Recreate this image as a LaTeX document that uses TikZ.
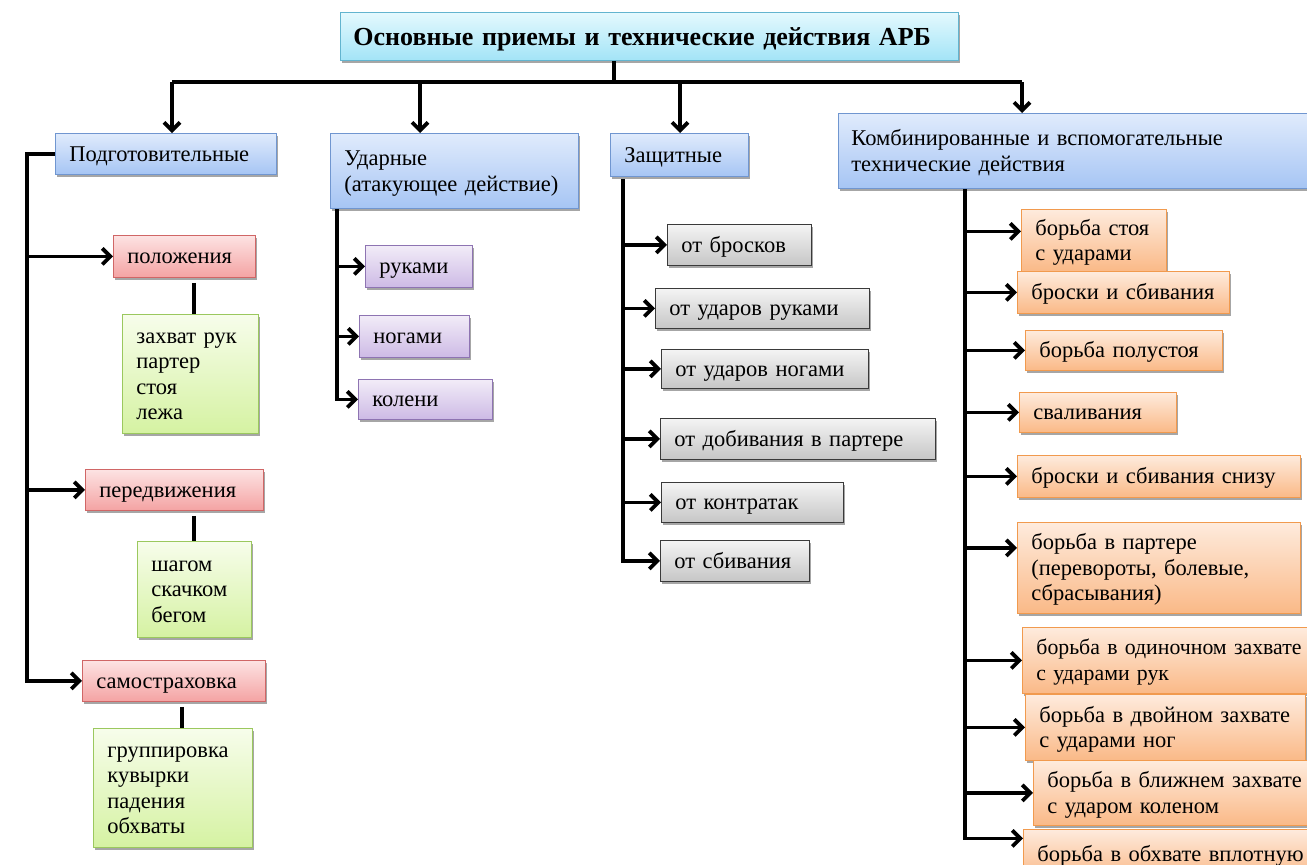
\documentclass[tikz,border=0pt]{standalone}
\usepackage{fontspec}
\setmainfont{Liberation Serif}
\usetikzlibrary{arrows.meta,shadows}
\definecolor{blueB}{HTML}{7096D0}
\definecolor{blueT}{HTML}{E0EBFC}
\definecolor{blueD}{HTML}{A6C5F4}
\definecolor{cyanB}{HTML}{62B4CF}
\definecolor{cyanT}{HTML}{E4F9FE}
\definecolor{cyanD}{HTML}{A3E4F7}
\definecolor{redB}{HTML}{D06666}
\definecolor{redT}{HTML}{FDE3E3}
\definecolor{redD}{HTML}{F4A3A3}
\definecolor{grnB}{HTML}{9BC85E}
\definecolor{grnT}{HTML}{F7FDEB}
\definecolor{grnD}{HTML}{D5F2A2}
\definecolor{purB}{HTML}{8E74B2}
\definecolor{purT}{HTML}{F2ECF8}
\definecolor{purD}{HTML}{CDBAE5}
\definecolor{gryB}{HTML}{3A3A3A}
\definecolor{gryT}{HTML}{F4F4F4}
\definecolor{gryD}{HTML}{C6C6C6}
\definecolor{orgB}{HTML}{F19A4E}
\definecolor{orgT}{HTML}{FEEBDD}
\definecolor{orgD}{HTML}{FAB987}
\newcommand\fs{\fontsize{22.5}{25.5}\selectfont}
\tikzset{
  bx/.style={rectangle, line width=0.8pt, anchor=north west, inner xsep=14pt, inner ysep=0pt,
    align=left, font=\fs,
    execute at begin node={\noindent\rule{0pt}{0.89em}},
    execute at end node={\rule[-0.22em]{0pt}{0pt}},
    drop shadow={shadow xshift=2pt, shadow yshift=-2.5pt, fill=black, opacity=0.35}},
  blu/.style={bx, draw=blueB, top color=blueT, bottom color=blueD},
  cyn/.style={bx, draw=cyanB, top color=cyanT, bottom color=cyanD},
  red/.style={bx, draw=redB, top color=redT, bottom color=redD},
  grn/.style={bx, draw=grnB, top color=grnT, bottom color=grnD},
  pur/.style={bx, draw=purB, top color=purT, bottom color=purD},
  gry/.style={bx, draw=gryB, top color=gryT, bottom color=gryD},
  org/.style={bx, draw=orgB, top color=orgT, bottom color=orgD},
  ln/.style={line width=3.8pt, black, line join=miter},
  arr/.style={ln, -{Straight Barb[length=8pt,width=16pt]}},
}
\begin{document}
\begin{tikzpicture}[x=1pt,y=-1pt]
\useasboundingbox (0,0) rectangle (1307,865);
% title
\node[cyn, inner xsep=13pt, text width=592pt, minimum height=48pt, font=\fontsize{26}{28}\selectfont\bfseries] (title) at (340,12) {Основные приемы и технические действия АРБ};
% level 1
\node[blu, text width=193pt, minimum height=41pt] (pod) at (55,133) {Подготовительные};
\node[blu, text width=220pt, minimum height=75pt] (udar) at (330,133) {Ударные\\(атакующее действие)};
\node[blu, text width=110pt, minimum height=43pt] (zasch) at (610,133) {Защитные};
\node[blu, inner xsep=13pt, text width=454pt, minimum height=75pt] (komb) at (838,113) {Комбинированные и вспомогательные\\технические действия};
% prep
\node[red, text width=114pt, minimum height=42pt] (pol) at (113,235) {положения};
\node[grn, text width=108pt, minimum height=119pt] (zahv) at (122,314) {захват рук\\партер\\стоя\\лежа};
\node[red, text width=150pt, minimum height=41pt] (pered) at (85,469) {передвижения};
\node[grn, text width=86pt, minimum height=96pt] (shag) at (137,541) {шагом\\скачком\\бегом};
\node[red, text width=155pt, minimum height=41pt] (samo) at (82,660) {самостраховка};
\node[grn, text width=131pt, minimum height=119pt] (grup) at (93,728) {группировка\\кувырки\\падения\\обхваты};
% strikes
\node[pur, text width=79pt, minimum height=42pt] (ruk) at (365,245) {руками};
\node[pur, text width=82pt, minimum height=42pt] (nog) at (359,315) {ногами};
\node[pur, text width=106pt, minimum height=40pt] (kol) at (358,379) {колени};
% defence
\node[gry, text width=116pt, minimum height=41pt] (ob) at (667,224) {от бросков};
\node[gry, text width=186pt, minimum height=40pt] (ur) at (655,288) {от ударов руками};
\node[gry, text width=179pt, minimum height=39pt] (un) at (661,349) {от ударов ногами};
\node[gry, text width=247pt, minimum height=41pt] (dob) at (660,418) {от добивания в партере};
\node[gry, text width=154pt, minimum height=40pt] (kon) at (661,482) {от контратак};
\node[gry, text width=121pt, minimum height=41pt] (sb) at (660,540) {от сбивания};
% combined
\node[org, text width=117pt, minimum height=62pt] (o1) at (1021,209) {борьба стоя\\с ударами};
\node[org, text width=184pt, minimum height=42pt] (o2) at (1017,271) {броски и сбивания};
\node[org, text width=169pt, minimum height=40pt] (o3) at (1025,330) {борьба полустоя};
\node[org, text width=129pt, minimum height=40pt] (o4) at (1019,392) {сваливания};
\node[org, text width=255pt, minimum height=42pt] (o5) at (1017,455) {броски и сбивания снизу};
\node[org, text width=255pt, minimum height=91pt] (o6) at (1017,522) {борьба в партере\\(перевороты, болевые,\\сбрасывания)};
\node[org, text width=285pt, minimum height=66pt, font=\fontsize{21.8}{25.5}\selectfont] (o7) at (1022,627) {борьба в одиночном захвате\\с ударами рук};
\node[org, text width=252pt, minimum height=66pt] (o8) at (1025,694) {борьба в двойном захвате\\с ударами ног};
\node[org, text width=275pt, minimum height=65pt] (o9) at (1033,760) {борьба в ближнем захвате\\с ударом коленом};
\node[org, text width=285pt, minimum height=50pt] (o10) at (1023,829) {борьба в обхвате вплотную};
% bus
\coordinate (b0) at (614,82);
\coordinate (b1) at (172,82);
\coordinate (b2) at (420,82);
\coordinate (b3) at (680,82);
\coordinate (b4) at (1022,82);
\draw[ln] (title.south -| b0) -- (b0);
\draw[ln] (b1) -- (b4);
\draw[arr] (b1) -- (b1 |- pod.north);
\draw[arr] (b2) -- (b2 |- udar.north);
\draw[arr] (b3) -- (b3 |- zasch.north);
\draw[arr] (b4) -- (b4 |- komb.north);
% prep trunk
\coordinate (tP) at (27,0);
\draw[ln] (pod.west) -| (tP |- samo.west) -- ++(4,0);
\draw[arr] (pol.west -| tP) -- (pol.west);
\draw[arr] (pered.west -| tP) -- (pered.west);
\draw[arr] (samo.west -| tP) -- (samo.west);
\coordinate (g1) at (194,0);
\coordinate (g3) at (182,0);
\draw[ln] ([yshift=-5pt]pol.south -| g1) -- (zahv.north -| g1);
\draw[ln] ([yshift=-5pt]pered.south -| g1) -- (shag.north -| g1);
\draw[ln] ([yshift=-5pt]samo.south -| g3) -- (grup.north -| g3);
% strikes trunk
\coordinate (tU) at (337,0);
\draw[ln] (udar.south -| tU) -- (tU |- kol.west) -- ++(4,0);
\draw[arr] (ruk.west -| tU) -- (ruk.west);
\draw[arr] (nog.west -| tU) -- (nog.west);
\draw[arr] (kol.west -| tU) -- (kol.west);
% defence trunk
\coordinate (tZ) at (623,0);
\draw[ln] ([yshift=-2pt]zasch.south -| tZ) -- (tZ |- sb.west) -- ++(4,0);
\draw[arr] (ob.west -| tZ) -- (ob.west);
\draw[arr] (ur.west -| tZ) -- (ur.west);
\draw[arr] (un.west -| tZ) -- (un.west);
\draw[arr] (dob.west -| tZ) -- (dob.west);
\draw[arr] (kon.west -| tZ) -- (kon.west);
\draw[arr] (sb.west -| tZ) -- (sb.west);
% combined trunk
\coordinate (tK) at (965,0);
\coordinate (kEnd) at ([yshift=16pt]o10.west -| tK);
\draw[ln] (komb.south -| tK) -- (kEnd) -- ++(4,0);
\draw[arr] ([yshift=9pt]o1.west -| tK) -- ([yshift=9pt]o1.west);
\draw[arr] (o2.west -| tK) -- (o2.west);
\draw[arr] (o3.west -| tK) -- (o3.west);
\draw[arr] (o4.west -| tK) -- (o4.west);
\draw[arr] (o5.west -| tK) -- (o5.west);
\draw[arr] ([yshift=20pt]o6.west -| tK) -- ([yshift=20pt]o6.west);
\draw[arr] (o7.west -| tK) -- (o7.west);
\draw[arr] (o8.west -| tK) -- (o8.west);
\draw[arr] (o9.west -| tK) -- (o9.west);
\draw[arr] (kEnd) -- ([yshift=16pt]o10.west);
\end{tikzpicture}
\end{document}
